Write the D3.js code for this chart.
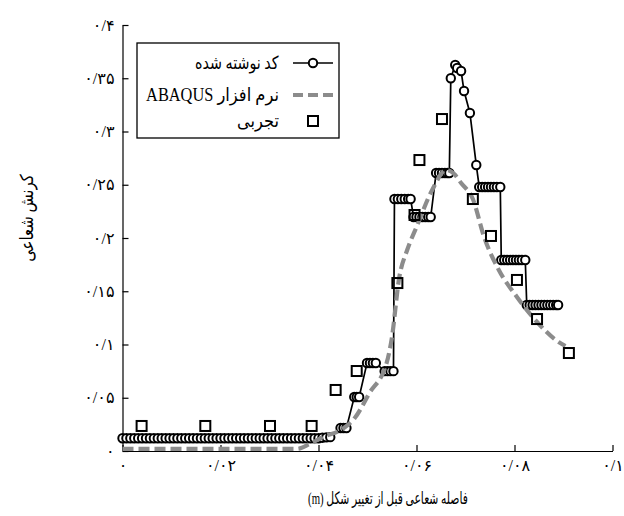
<!DOCTYPE html>
<html>
<head>
<meta charset="utf-8">
<script src="https://cdn.jsdelivr.net/npm/d3@7"></script>
<style>
  html, body { margin: 0; padding: 0; background: #ffffff; }
  svg text { font-family: "Liberation Serif", "DejaVu Sans", serif; fill: #000; }
</style>
</head>
<body>
<svg id="chart" width="624" height="516"></svg>
<script>
// Radial strain vs. radial distance before deformation

// Series 1: in-house code (line + circle markers)
const codeX = [
  0, 0.0008, 0.0016, 0.0024, 0.0032, 0.004, 0.0048, 0.0056, 0.0064, 0.0072,
  0.008, 0.0088, 0.0096, 0.0104, 0.0112, 0.012, 0.0128, 0.0136, 0.0144, 0.0152,
  0.016, 0.0168, 0.0176, 0.0184, 0.0192, 0.02, 0.0208, 0.0216, 0.0224, 0.0232,
  0.024, 0.0248, 0.0256, 0.0264, 0.0272, 0.028, 0.0288, 0.0296, 0.0304, 0.0312,
  0.032, 0.0328, 0.0336, 0.0344, 0.0352, 0.036, 0.0368, 0.0376, 0.0384, 0.0392,
  0.04, 0.0408, 0.0416, 0.0424,
  0.0445, 0.0451, 0.0457,
  0.0473, 0.0478, 0.0483,
  0.0499, 0.0505, 0.0511, 0.0517,
  0.0535, 0.0541, 0.0547, 0.0553,
  0.0555, 0.0562, 0.0569, 0.0576, 0.0583, 0.0588,
  0.0594, 0.0600, 0.0606, 0.0612, 0.0618, 0.0624, 0.0629,
  0.0640, 0.0646, 0.0652, 0.0658, 0.0663, 0.0667,
  0.0670, 0.0679, 0.0683, 0.0691, 0.0697, 0.0709, 0.0722,
  0.0728, 0.0734, 0.0740, 0.0746, 0.0752, 0.0758, 0.0764, 0.0771,
  0.0773, 0.0779, 0.0785, 0.0791, 0.0797, 0.0803, 0.0809, 0.0815, 0.0822,
  0.0825, 0.0831, 0.0837, 0.0843, 0.0849, 0.0855, 0.0861, 0.0867, 0.0873, 0.0879, 0.0885, 0.0889
];
const codeY = [
  0.012, 0.012, 0.012, 0.012, 0.012, 0.012, 0.012, 0.012, 0.012, 0.012,
  0.012, 0.012, 0.012, 0.012, 0.012, 0.012, 0.012, 0.012, 0.012, 0.012,
  0.012, 0.012, 0.012, 0.012, 0.012, 0.012, 0.012, 0.012, 0.012, 0.012,
  0.012, 0.012, 0.012, 0.012, 0.012, 0.012, 0.012, 0.012, 0.012, 0.012,
  0.012, 0.012, 0.012, 0.012, 0.012, 0.012, 0.012, 0.012, 0.012, 0.012,
  0.012, 0.0125, 0.0128, 0.013,
  0.0216, 0.0216, 0.0216,
  0.0507, 0.0507, 0.0507,
  0.0826, 0.0826, 0.0826, 0.0826,
  0.075, 0.075, 0.075, 0.075,
  0.2366, 0.2366, 0.2366, 0.2366, 0.2366, 0.2366,
  0.2197, 0.2197, 0.2197, 0.2197, 0.2197, 0.2197, 0.2197,
  0.261, 0.261, 0.261, 0.261, 0.261, 0.261,
  0.350, 0.3624, 0.3596, 0.3568, 0.338, 0.3174, 0.2685,
  0.2479, 0.2479, 0.2479, 0.2479, 0.2479, 0.2479, 0.2479, 0.2479,
  0.1793, 0.1793, 0.1793, 0.1793, 0.1793, 0.1793, 0.1793, 0.1793, 0.1793,
  0.1371, 0.1371, 0.1371, 0.1371, 0.1371, 0.1371, 0.1371, 0.1371, 0.1371, 0.1371, 0.1371, 0.1371
];

// Series 2: ABAQUS (grey dashed curve)
const abaqusX = [0, 0.0356, 0.0382, 0.0409, 0.0449, 0.0474, 0.0504, 0.0539, 0.0549, 0.0565,
  0.0581, 0.060, 0.0632, 0.0661, 0.0677, 0.0691, 0.0715, 0.0738, 0.0768, 0.0805,
  0.0846, 0.089, 0.0904];
const abaqusY = [0.002, 0.002, 0.0066, 0.0131, 0.0207, 0.031, 0.0545, 0.0826, 0.1042, 0.1634,
  0.1887, 0.2103, 0.2451, 0.2638, 0.2601, 0.2516, 0.2366, 0.2009, 0.170, 0.1446,
  0.1211, 0.1023, 0.0986];

// Series 3: experiment (open squares)
const testX = [0.0039, 0.0169, 0.0301, 0.0386, 0.0435, 0.0478, 0.0561, 0.0596, 0.0606, 0.0652,
  0.0715, 0.0752, 0.0805, 0.0846, 0.0911];
const testY = [0.0235, 0.0235, 0.0235, 0.0235, 0.0573, 0.0751, 0.1577, 0.2216, 0.2732, 0.3117,
  0.2366, 0.2019, 0.1606, 0.1239, 0.092];

const xTicks = [0, 0.02, 0.04, 0.06, 0.08, 0.1];
const xTickLabels = ["۰", "۰/۰۲", "۰/۰۴", "۰/۰۶", "۰/۰۸", "۰/۱"];
const yTicks = [0, 0.05, 0.1, 0.15, 0.2, 0.25, 0.3, 0.35, 0.4];
const yTickLabels = ["۰", "۰/۰۵", "۰/۱", "۰/۱۵", "۰/۲", "۰/۲۵", "۰/۳", "۰/۳۵", "۰/۴"];

const seriesNames = ["کد نوشته شده", "نرم افزار ABAQUS", "تجربی"];
const xTitle = "فاصله شعاعی قبل از تغییر شکل (m)";
const yTitle = "کرنش شعاعی";

const svg = d3.select("#chart");
const x = d3.scaleLinear().domain([0, 0.1]).range([122.5, 612.5]);
const y = d3.scaleLinear().domain([0, 0.4]).range([451, 25]);

// Squeeze a text element horizontally (in its own frame) to a given width around anchor ax
function fitWidth(t, target, ax) {
  const w = t.node().getBBox().width;
  const s = target / w;
  t.attr("transform", `translate(${ax},0) scale(${s},1) translate(${-ax},0)`);
}

// Axes: ticks point inward
const xAxis = svg.append("g")
  .attr("transform", `translate(0,${y(0)})`)
  .call(d3.axisBottom(x).tickValues(xTicks).tickFormat((d, i) => xTickLabels[i])
    .tickSizeInner(-6).tickSizeOuter(0).tickPadding(9));
const yAxis = svg.append("g")
  .attr("transform", `translate(${x(0)},0)`)
  .call(d3.axisLeft(y).tickValues(yTicks).tickFormat((d, i) => yTickLabels[i])
    .tickSizeInner(-6).tickSizeOuter(0).tickPadding(8));
[xAxis, yAxis].forEach(g => {
  g.selectAll("path.domain").attr("stroke", "#000").attr("stroke-width", 1.2);
  g.selectAll(".tick line").attr("stroke", "#000").attr("stroke-width", 1.2);
  g.selectAll(".tick text").attr("font-size", 16).attr("font-family", "DejaVu Sans, sans-serif");
});

const codeData = codeX.map((v, i) => [v, codeY[i]]);
const abaqusData = abaqusX.map((v, i) => [v, abaqusY[i]]);
const testData = testX.map((v, i) => [v, testY[i]]);

// In-house code: line then circles
svg.append("path")
  .datum(codeData)
  .attr("fill", "none").attr("stroke", "#000").attr("stroke-width", 1.7)
  .attr("d", d3.line().x(d => x(d[0])).y(d => y(d[1])));
svg.append("g").selectAll("circle").data(codeData).join("circle")
  .attr("cx", d => x(d[0])).attr("cy", d => y(d[1])).attr("r", 4.2)
  .attr("fill", "#fff").attr("stroke", "#000").attr("stroke-width", 2);

// ABAQUS: dashed grey
svg.append("path")
  .datum(abaqusData)
  .attr("fill", "none").attr("stroke", "#8c8c8c").attr("stroke-width", 4.2)
  .attr("stroke-dasharray", "11,5")
  .attr("d", d3.line().curve(d3.curveMonotoneX).x(d => x(d[0])).y(d => y(d[1])));

// Experiment: open squares
svg.append("g").selectAll("rect").data(testData).join("rect")
  .attr("x", d => x(d[0]) - 5).attr("y", d => y(d[1]) - 5)
  .attr("width", 10).attr("height", 10)
  .attr("fill", "none").attr("stroke", "#000").attr("stroke-width", 2);

// Legend
const lg = svg.append("g");
lg.append("rect").attr("x", 137).attr("y", 43).attr("width", 202).attr("height", 95)
  .attr("fill", "#fff").attr("stroke", "#000").attr("stroke-width", 1.3);
const rowY = [63, 95, 121];
lg.append("line").attr("x1", 293).attr("x2", 333).attr("y1", rowY[0]).attr("y2", rowY[0])
  .attr("stroke", "#000").attr("stroke-width", 1.7);
lg.append("circle").attr("cx", 313).attr("cy", rowY[0]).attr("r", 4.2)
  .attr("fill", "#fff").attr("stroke", "#000").attr("stroke-width", 2);
lg.append("line").attr("x1", 293).attr("x2", 334).attr("y1", rowY[1]).attr("y2", rowY[1])
  .attr("stroke", "#8c8c8c").attr("stroke-width", 4.2).attr("stroke-dasharray", "10,5");
lg.append("rect").attr("x", 308).attr("y", rowY[2] - 5).attr("width", 10).attr("height", 10)
  .attr("fill", "none").attr("stroke", "#000").attr("stroke-width", 2);

function alignRight(sel, xr) {
  const bb = sel.node().getBBox();
  sel.attr("x", +sel.attr("x") + (xr - (bb.x + bb.width)));
}
const legendWidths = [84, 133, 42];
seriesNames.forEach((name, i) => {
  const t = lg.append("text").attr("x", 278).attr("y", rowY[i]).attr("dy", "0.35em")
    .attr("font-size", 18).attr("direction", "rtl").attr("text-anchor", "start")
    .text(name);
  alignRight(t, 279);
  fitWidth(t, legendWidths[i], 279);
});

// Axis titles
const xt = svg.append("text").attr("x", 388).attr("y", 504)
  .attr("font-size", 17).attr("direction", "rtl").attr("text-anchor", "middle")
  .text(xTitle);
fitWidth(xt, 160, 388);
const yg = svg.append("g").attr("transform", "translate(27,218) rotate(-90)");
const yt = yg.append("text").attr("x", 0).attr("y", 0)
  .attr("font-size", 18).attr("direction", "rtl").attr("text-anchor", "middle")
  .attr("dy", "0.35em")
  .text(yTitle);
fitWidth(yt, 88, 0);
</script>
</body>
</html>
